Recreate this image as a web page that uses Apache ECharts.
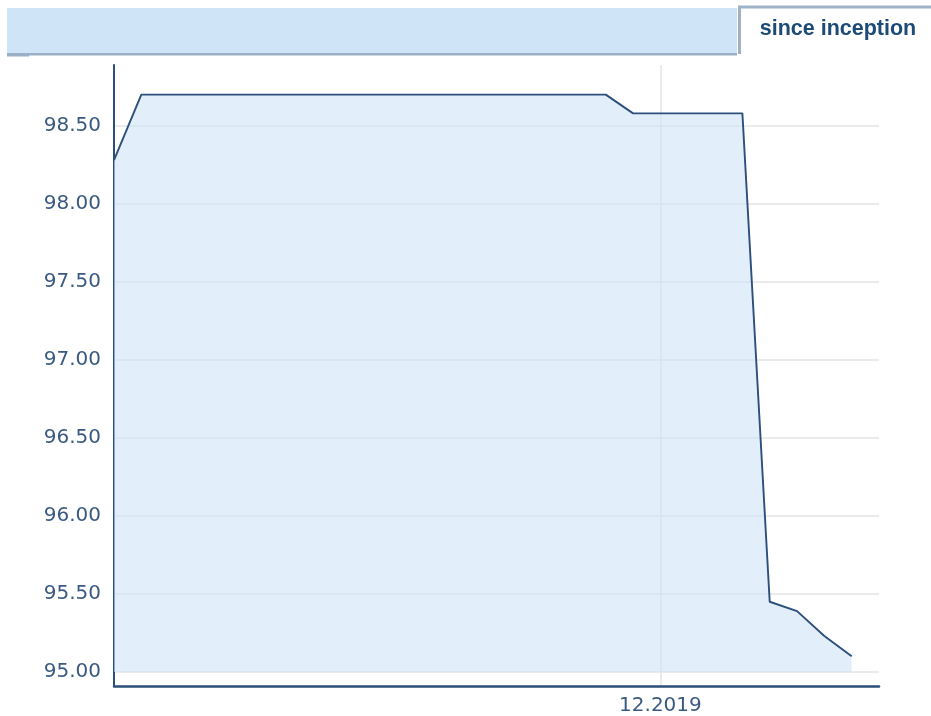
<!DOCTYPE html>
<html>
<head>
<meta charset="utf-8">
<script src="https://cdn.jsdelivr.net/npm/echarts@6/dist/echarts.min.js"></script>
<style>
    html, body { margin: 0; padding: 0; background: #fff; }
    #chart { width: 931px; height: 716px; }
</style>
</head>
<body>
<div id="chart"></div>
<script>
// monthly points, 04.2018 .. 08.2020 (last slot is empty axis room)
const months = [
    '04.2018', '05.2018', '06.2018', '07.2018', '08.2018', '09.2018', '10.2018', '11.2018', '12.2018',
    '01.2019', '02.2019', '03.2019', '04.2019', '05.2019', '06.2019', '07.2019', '08.2019', '09.2019',
    '10.2019', '11.2019', '12.2019', '01.2020', '02.2020', '03.2020', '04.2020', '05.2020', '06.2020',
    '07.2020', '08.2020'
];
const prices = [
    98.28, 98.70, 98.70, 98.70, 98.70, 98.70, 98.70, 98.70, 98.70,
    98.70, 98.70, 98.70, 98.70, 98.70, 98.70, 98.70, 98.70, 98.70,
    98.70, 98.58, 98.58, 98.58, 98.58, 98.58, 95.45, 95.39, 95.23,
    95.10, null
];
const yTicks = [95.0, 95.5, 96.0, 96.5, 97.0, 97.5, 98.0, 98.5];
const xLabels = ['12.2019'];
const tabTitle = 'since inception';

const navy = '#2c4f7c';
const labelColor = '#3b5a80';

const chart = echarts.init(document.getElementById('chart'));

const showMonth = (idx, value) => xLabels.indexOf(months[idx]) !== -1;

const option = {
    animation: false,
    grid: {
        left: 114,
        right: 52,
        top: 65,
        bottom: 29
    },
    graphic: [
        {
            type: 'rect',
            shape: { x: 7, y: 8, width: 730, height: 45 },
            style: { fill: '#cfe4f7' }
        },
        {
            type: 'rect',
            shape: { x: 7, y: 53, width: 730, height: 2.5 },
            style: { fill: '#9bb0c6' }
        },
        {
            type: 'rect',
            shape: { x: 7, y: 55, width: 22, height: 1.5 },
            style: { fill: '#9bb0c6' }
        },
        {
            type: 'polyline',
            shape: { points: [[739.5, 54], [739.5, 7], [931, 7]] },
            style: { stroke: '#9fb3c8', lineWidth: 3, fill: null }
        },
        {
            type: 'text',
            x: 838,
            y: 29,
            style: {
                text: tabTitle,
                fill: '#1d4b78',
                font: 'bold 21.5px "Liberation Sans", Arial, sans-serif',
                align: 'center',
                verticalAlign: 'middle'
            }
        }
    ],
    xAxis: {
        type: 'category',
        boundaryGap: false,
        data: months,
        axisLine: {
            lineStyle: { color: navy, width: 2.5 }
        },
        axisTick: { show: false },
        axisLabel: {
            interval: showMonth,
            color: labelColor,
            fontFamily: 'DejaVu Sans',
            fontSize: 20,
            margin: 10
        },
        splitLine: {
            show: true,
            interval: showMonth,
            lineStyle: { color: '#e4e4e4', width: 1.5 }
        }
    },
    yAxis: {
        type: 'value',
        min: 94.91,
        max: 98.89,
        axisLine: {
            show: true,
            lineStyle: { color: navy, width: 2 }
        },
        axisTick: {
            show: false,
            customValues: yTicks
        },
        axisLabel: {
            customValues: yTicks,
            color: labelColor,
            fontFamily: 'DejaVu Sans',
            fontSize: 20,
            margin: 13,
            formatter: v => v.toFixed(2)
        },
        splitLine: {
            show: true,
            lineStyle: { color: '#e4e4e4', width: 1.5 }
        }
    },
    series: [{
        type: 'line',
        data: prices,
        showSymbol: false,
        symbol: 'none',
        lineStyle: { color: navy, width: 1.9 },
        areaStyle: {
            origin: 95,
            opacity: 1,
            color: 'rgba(207, 227, 245, 0.6)'
        }
    }]
};

chart.setOption(option);
</script>
</body>
</html>
